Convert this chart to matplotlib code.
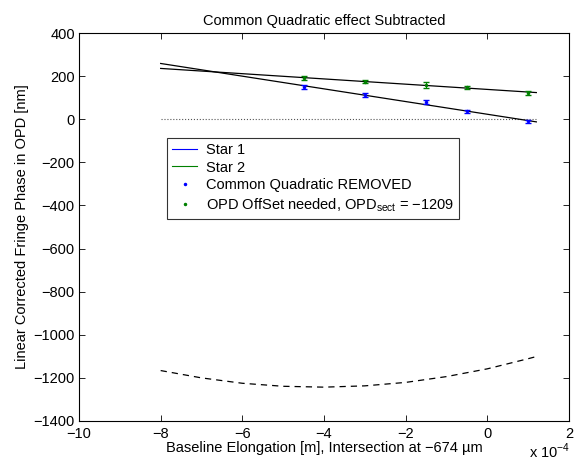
import numpy as np
import matplotlib.pyplot as plt
from matplotlib.lines import Line2D

plt.rcParams['font.family'] = ['Liberation Sans', 'DejaVu Sans']
plt.rcParams['font.size'] = 10.5
plt.rcParams['mathtext.fontset'] = 'custom'
plt.rcParams['mathtext.rm'] = 'Liberation Sans'

# baseline elongation (units of 1e-4 m)
x_pts = [-4.5, -3.0, -1.5, -0.5, 1.0]
star1_y = [150, 112, 80, 37, -9]
star1_err = [8, 9, 9, 7, 8]
star2_y = [191, 175, 161, 149, 122]
star2_err = [10, 8, 14, 7, 10]

# linear fits (end points)
fit_x = [-8.0, 1.2]
fit1_y = [259, -12]
fit2_y = [236, 124]

# common quadratic
quad_x = [-8, -7, -6, -5, -4, -3, -2, -1, 0, 1, 1.2]
quad_y = [-1166, -1200, -1225, -1239, -1243, -1237, -1221, -1194, -1158, -1111, -1101]

fig = plt.figure(figsize=(5.83, 4.66), dpi=100)
ax = fig.add_axes([0.1355, 0.0966, 0.8405, 0.8324])

ax.plot(fit_x, [0, 0], ':', color='#555555', lw=0.8)
ax.plot(fit_x, fit1_y, color='black', lw=0.9)
ax.plot(fit_x, fit2_y, color='black', lw=0.9)
ax.plot(quad_x, quad_y, '--', color='black', lw=0.9, dashes=(5, 4))

ax.errorbar(x_pts, star1_y, yerr=star1_err, fmt='.', color='#0000ff', ms=3,
            capsize=2, elinewidth=0.8)
ax.errorbar(x_pts, star2_y, yerr=star2_err, fmt='.', color='#008000', ms=3,
            capsize=2, elinewidth=0.8)

ax.set_xlim(-10, 2)
ax.set_ylim(-1400, 400)
ax.set_xticks(range(-10, 3, 2))
ax.set_xticklabels([str(v).replace('-', '\u2212') for v in range(-10, 3, 2)])
ax.set_yticks(range(-1400, 401, 200))
ax.set_yticklabels([str(v).replace('-', '\u2212') for v in range(-1400, 401, 200)])
ax.tick_params(direction='in', top=True, right=True, length=4, width=0.6)
ax.tick_params(axis='x', pad=4.5)
ax.tick_params(axis='y', pad=3)
for s in ax.spines.values():
    s.set_linewidth(0.8)

ax.set_title('Common Quadratic effect Subtracted', fontsize=10.5, pad=6)
ax.set_xlabel('Baseline Elongation [m], Intersection at \u2212674 \u00b5m', labelpad=0)
ax.set_ylabel('Linear Corrected Fringe Phase in OPD [nm]', labelpad=3)
fig.text(0.908, 0.018, 'x 10$^{\\mathrm{\u22124}}$', fontsize=10.5)

handles = [
    Line2D([], [], color='#0000ff', lw=0.8),
    Line2D([], [], color='#008000', lw=0.8),
    Line2D([], [], ls='none', marker='.', ms=3, color='#0000ff'),
    Line2D([], [], ls='none', marker='.', ms=3, color='#008000'),
]
labels = ['Star 1', 'Star 2', 'Common Quadratic REMOVED',
          'OPD OffSet needed, OPD$_{\\mathrm{sect}}$ = \u22121209']
leg = ax.legend(handles, labels, loc='upper left', bbox_to_anchor=(0.18, 0.73),
                frameon=True, fancybox=False, edgecolor='black', handlelength=1.7,
                borderpad=0.35, labelspacing=0.25, handletextpad=0.6, fontsize=10.5,
                borderaxespad=0)
leg.get_frame().set_linewidth(0.8)

fig.savefig('out.png', dpi=100)
